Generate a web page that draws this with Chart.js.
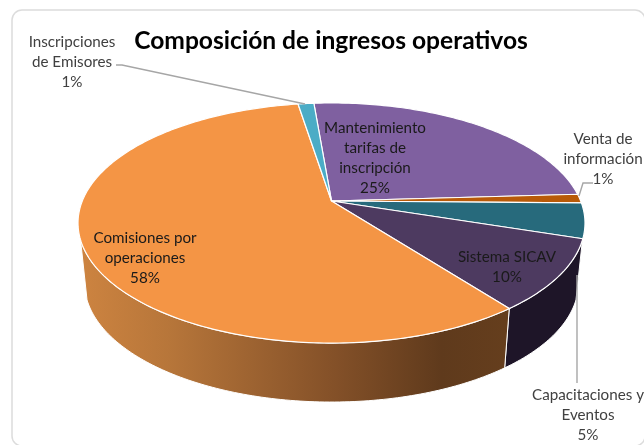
<!DOCTYPE html>
<html>
<head>
<meta charset="utf-8">
<style>
  html, body { margin: 0; padding: 0; background: #fff; }
  canvas { display: block; }
</style>
<script src="https://cdn.jsdelivr.net/npm/chart.js@4"></script>
</head>
<body>
<canvas id="pie" width="644" height="445"></canvas>
<script>
const categorias = ['Mantenimiento tarifas de inscripción', 'Venta de información', 'Capacitaciones y Eventos', 'Sistema SICAV', 'Comisiones por operaciones', 'Inscripciones de Emisores'];
const valores = [25.4, 1.2, 4.7, 9.6, 57.9, 1.2];
const colores = ['#7f60a0', '#b85a08', '#276a7c', '#4d3a60', '#f49545', '#4bacc6'];
const titulo = 'Composición de ingresos operativos';

// perspective of the top face: apex and ellipse are not concentric
const apexX = 331.5, apexY = 201, persp = -0.1833, escX = 249.2, escY = 116;
// the bottom face is the same shape moved down
const baseDY = 60, baseEscX = 247 / 253.5, baseEscY = 119 / 120, elipseY = 223;
// angles (canvas radians) where the wall stops being seen
const muroIni = 18.5 * Math.PI / 180, muroFin = 161.5 * Math.PI / 180;

function proyectar(a) {
    const u = Math.cos(a), v = Math.sin(a), w = 1 + persp * v;
    return [apexX + escX * u / w, apexY + escY * v / w];
}

function proyectarBase(a) {
    const p = proyectar(a);
    return [apexX + (p[0] - apexX) * baseEscX, elipseY + baseDY + (p[1] - elipseY) * baseEscY];
}

// top face of a slice, angles come from the library
Chart.ArcElement.prototype.draw = function(ctx) {
    const pasos = Math.max(4, Math.ceil((this.endAngle - this.startAngle) * 60));
    ctx.save();
    ctx.beginPath();
    ctx.moveTo(apexX, apexY);
    for (let i = 0; i <= pasos; i++) {
        const p = proyectar(this.startAngle + (this.endAngle - this.startAngle) * i / pasos);
        ctx.lineTo(p[0], p[1]);
    }
    ctx.closePath();
    ctx.fillStyle = this.options.backgroundColor;
    ctx.fill();
    ctx.strokeStyle = this.options.borderColor;
    ctx.lineWidth = this.options.borderWidth;
    ctx.lineJoin = 'round';
    ctx.stroke();
    ctx.restore();
};

function normal(a) {
    while (a < 0) a += Math.PI * 2;
    while (a >= Math.PI * 2) a -= Math.PI * 2;
    return a;
}

function dibujarMuro(ctx, arc, relleno) {
    let ini = normal(arc.startAngle);
    let fin = ini + (arc.endAngle - arc.startAngle);
    ini = Math.max(ini, muroIni);
    fin = Math.min(fin, muroFin);
    if (fin <= ini) return;
    const pasos = Math.ceil((fin - ini) * 60);
    ctx.beginPath();
    for (let i = 0; i <= pasos; i++) {
        const p = proyectar(ini + (fin - ini) * i / pasos);
        ctx.lineTo(p[0], p[1]);
    }
    for (let i = pasos; i >= 0; i--) {
        const p = proyectarBase(ini + (fin - ini) * i / pasos);
        ctx.lineTo(p[0], p[1]);
    }
    ctx.closePath();
    ctx.fillStyle = relleno;
    ctx.fill();
    ctx.strokeStyle = '#fff';
    ctx.lineWidth = 1;
    ctx.stroke();
}

const marcoYMuros = {
    id: 'marcoYMuros',
    beforeDraw(chart) {
        const ctx = chart.ctx;
        ctx.save();
        ctx.strokeStyle = '#dcdcdc';
        ctx.lineWidth = 1.5;
        ctx.beginPath();
        ctx.roundRect(12, 10, 633, 436, 10);
        ctx.stroke();
        ctx.restore();
    },
    beforeDatasetsDraw(chart) {
        const ctx = chart.ctx;
        const arcos = chart.getDatasetMeta(0).data;
        const grad = ctx.createLinearGradient(84, 0, 505, 0);
        grad.addColorStop(0, '#cc8340');
        grad.addColorStop(0.2, '#b7763a');
        grad.addColorStop(0.6, '#835028');
        grad.addColorStop(0.85, '#5f3a1c');
        grad.addColorStop(1, '#653e1d');
        ctx.save();
        dibujarMuro(ctx, arcos[3], '#1e1528');
        dibujarMuro(ctx, arcos[4], grad);
        ctx.restore();
    }
};

// label text blocks and leader lines, in the order of categorias
const etiquetas = [
    { lineas: ['Mantenimiento', 'tarifas de', 'inscripción'], x: 375, y: 128, color: '#1a1a1a' },
    { lineas: ['Venta de', 'información'], x: 603, y: 139, color: '#404040' },
    { lineas: ['Capacitaciones y', 'Eventos'], x: 588, y: 395, color: '#404040' },
    { lineas: ['Sistema SICAV'], x: 507, y: 257, color: '#1a1a1a' },
    { lineas: ['Comisiones por', 'operaciones'], x: 145, y: 238, color: '#1a1a1a' },
    { lineas: ['Inscripciones', 'de Emisores'], x: 72, y: 42, color: '#404040' }
];
const guias = [
    [[116, 65], [122, 65], [305, 104]],
    [[593, 183], [583, 183], [579, 196]],
    [[577, 275], [577, 383]]
];

const textos = {
    id: 'textos',
    afterDatasetsDraw(chart) {
        const ctx = chart.ctx;
        const total = valores.reduce((a, b) => a + b, 0);
        ctx.save();
        ctx.strokeStyle = '#a6a6a6';
        ctx.lineWidth = 1.4;
        guias.forEach(g => {
            ctx.beginPath();
            g.forEach(p => ctx.lineTo(p[0], p[1]));
            ctx.stroke();
        });
        ctx.font = '15.2px Lato';
        ctx.textAlign = 'center';
        ctx.textBaseline = 'middle';
        etiquetas.forEach((e, i) => {
            const filas = e.lineas.concat(Math.round(valores[i] / total * 100) + '%');
            ctx.fillStyle = e.color;
            filas.forEach((f, j) => ctx.fillText(f, e.x, e.y + j * 20));
        });
        ctx.restore();
    }
};

new Chart(document.getElementById('pie'), {
    type: 'pie',
    data: {
        labels: categorias,
        datasets: [{
            data: valores,
            backgroundColor: colores,
            borderColor: '#fff',
            borderWidth: 1.2
        }]
    },
    options: {
        responsive: false,
        animation: false,
        rotation: -4.8,
        layout: { padding: { left: 18 } },
        plugins: {
            legend: { display: false },
            tooltip: { enabled: false },
            title: {
                display: true,
                text: titulo,
                color: '#000',
                fullSize: false,
                font: { family: 'Lato', size: 24.6, weight: 'bold' },
                padding: { top: 26, bottom: 10 }
            }
        }
    },
    plugins: [marcoYMuros, textos]
});
</script>
</body>
</html>
